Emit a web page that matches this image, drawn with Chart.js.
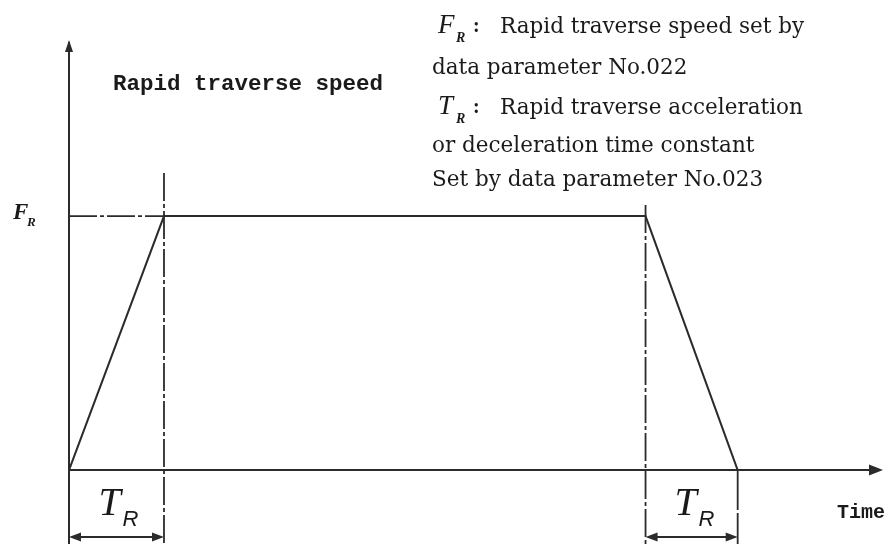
<!DOCTYPE html>
<html>
<head>
<meta charset="utf-8">
<script src="https://cdn.jsdelivr.net/npm/chart.js@4/dist/chart.umd.min.js"></script>
<style>
  html, body { margin: 0; padding: 0; background: #ffffff; }
  #box { width: 892px; height: 544px; position: relative; }
</style>
</head>
<body>
<div id="box"><canvas id="grafico"></canvas></div>
<script>
// dados do perfil de velocidade (tempo em unidades arbitrárias, velocidade normalizada por F_R)
const tempos = [0, 10, 60.7, 70.4];
const velocidades = [0, 1, 1, 0];
const tempoMax = 85.7;
const velMax = 1.693;
const velMin = -0.291;

const tituloEixoY = "Rapid traverse speed";
const tituloEixoX = "Time";
const notas = [
    { simbolo: "F", sub: "R", texto: "Rapid traverse speed set by" },
    { texto: "data parameter No.022" },
    { simbolo: "T", sub: "R", texto: "Rapid traverse acceleration" },
    { texto: "or deceleration time constant" },
    { texto: "Set by data parameter No.023" }
];

const cor = '#2b2b2b';

function seta(ctx, x, y, ang, comp, larg) {
    ctx.save();
    ctx.translate(x, y);
    ctx.rotate(ang);
    ctx.beginPath();
    ctx.moveTo(0, 0);
    ctx.lineTo(-comp, -larg / 2);
    ctx.lineTo(-comp, larg / 2);
    ctx.closePath();
    ctx.fill();
    ctx.restore();
}

function linha(ctx, x1, y1, x2, y2, tracejado) {
    ctx.save();
    ctx.setLineDash(tracejado || []);
    ctx.beginPath();
    ctx.moveTo(x1, y1);
    ctx.lineTo(x2, y2);
    ctx.stroke();
    ctx.restore();
}

const desenhoExtra = {
    id: 'desenhoExtra',
    afterDatasetsDraw(chart) {
        const ctx = chart.ctx;
        const sx = chart.scales.x;
        const sy = chart.scales.y;
        const x0 = sx.getPixelForValue(0);
        const y0 = sy.getPixelForValue(0);
        const yF = sy.getPixelForValue(velocidades[1]);
        const xA = sx.getPixelForValue(tempos[1]);
        const xB = sx.getPixelForValue(tempos[2]);
        const xC = sx.getPixelForValue(tempos[3]);
        const fundo = chart.height;
        const yCota = fundo - 7;
        const traco = [28, 3, 4, 3];

        ctx.save();
        ctx.strokeStyle = cor;
        ctx.fillStyle = cor;
        ctx.lineWidth = 2;

        // eixos
        linha(ctx, x0, fundo, x0, sy.getPixelForValue(velMax) + 2);
        seta(ctx, x0, sy.getPixelForValue(velMax), -Math.PI / 2, 12, 8);
        linha(ctx, x0, y0, sx.getPixelForValue(tempoMax) - 4, y0);
        seta(ctx, sx.getPixelForValue(tempoMax), y0, 0, 14, 11);

        // linhas de referência
        ctx.lineWidth = 1.8;
        linha(ctx, x0, yF, xA, yF, traco);
        linha(ctx, xA, yF - 43, xA, fundo, traco);
        linha(ctx, xB, yF - 11, xB, fundo, traco);
        linha(ctx, xC, y0, xC, fundo, [40, 3]);

        // cotas T_R
        ctx.lineWidth = 2;
        [[x0, xA], [xB, xC]].forEach(([a, b]) => {
            linha(ctx, a + 4, yCota, b - 4, yCota);
            seta(ctx, a, yCota, Math.PI, 12, 9);
            seta(ctx, b, yCota, 0, 12, 9);
        });

        // textos
        ctx.fillStyle = '#1a1a1a';
        ctx.textBaseline = 'alphabetic';
        ctx.font = 'italic 40px "Liberation Serif"';
        ctx.fillText('T', (x0 + xA) / 2 - 18, 515);
        ctx.fillText('T', (xB + xC) / 2 - 17, 515);
        ctx.font = 'italic 22px "Liberation Sans"';
        ctx.fillText('R', (x0 + xA) / 2 + 6, 526);
        ctx.fillText('R', (xB + xC) / 2 + 7, 526);

        ctx.font = 'italic bold 23px "Liberation Serif"';
        ctx.fillText('F', x0 - 56, yF + 3);
        ctx.font = 'italic bold 13px "Liberation Serif"';
        ctx.fillText('R', x0 - 42, yF + 10);

        ctx.font = 'bold 22.5px "Liberation Mono"';
        ctx.fillText(tituloEixoY, 113, 90);
        ctx.font = 'bold 20px "Liberation Mono"';
        ctx.fillText(tituloEixoX, 837, 518);

        const bases = [33, 74, 114, 152, 186];
        notas.forEach((n, i) => {
            let x = 432;
            if (n.simbolo) {
                ctx.font = 'italic 27px "Liberation Serif"';
                ctx.fillText(n.simbolo, x + 6, bases[i]);
                ctx.font = 'italic bold 14px "Liberation Serif"';
                ctx.fillText(n.sub, x + 24, bases[i] + 9);
                ctx.font = 'bold 20px "Liberation Serif"';
                ctx.fillText(':', x + 41, bases[i] - 1);
                x = 500;
            }
            ctx.font = '21.5px "DejaVu Serif"';
            ctx.fillText(n.texto, x, bases[i]);
        });
        ctx.restore();
    }
};

const ctx = document.getElementById('grafico').getContext('2d');
const grafico = new Chart(ctx, {
    type: 'line',
    data: {
        datasets: [{
            data: tempos.map((t, i) => ({ x: t, y: velocidades[i] })),
            borderColor: cor,
            borderWidth: 2,
            pointRadius: 0,
            fill: false,
            tension: 0
        }]
    },
    options: {
        responsive: true,
        maintainAspectRatio: false,
        animation: false,
        layout: { padding: { left: 69, right: 9, top: 40, bottom: 0 } },
        plugins: { legend: { display: false }, tooltip: { enabled: false } },
        scales: {
            x: { type: 'linear', min: 0, max: tempoMax, display: false },
            y: { type: 'linear', min: velMin, max: velMax, display: false }
        }
    },
    plugins: [desenhoExtra]
});
</script>
</body>
</html>
